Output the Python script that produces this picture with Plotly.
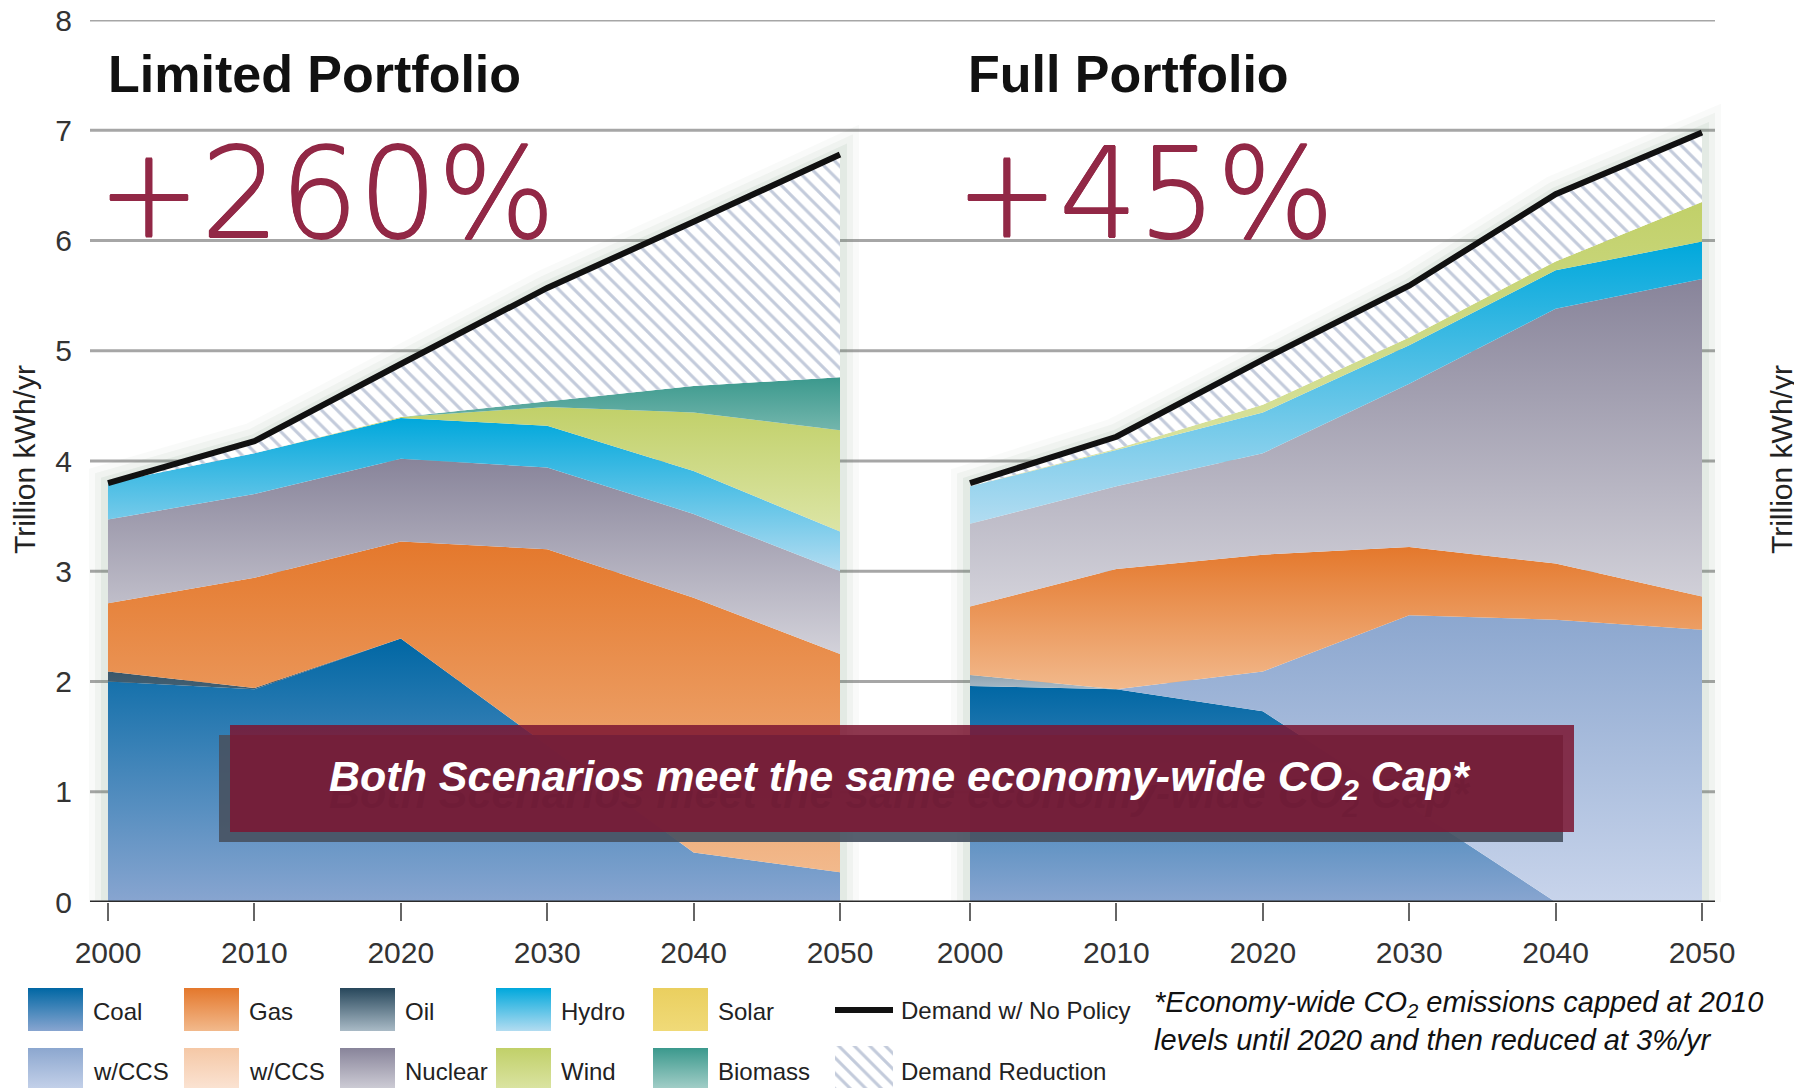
"""Limited vs Full Portfolio generation mix, stacked areas."""

import numpy as np
import plotly.graph_objects as go

W, H = 1802, 1088      # browser window
OFF = 8                # default body margin of the page
FW, FH = W - OFF, H - OFF

years = [2000, 2010, 2020, 2030, 2040, 2050]
y_ticks = [0, 1, 2, 3, 4, 5, 6, 7, 8]

# Limited Portfolio (trillion kWh/yr per source)
lim_coal = [2.00, 1.93, 2.39, 1.42, 0.45, 0.27]
lim_coal_ccs = [0, 0, 0, 0, 0, 0]
lim_oil = [0.09, 0.01, 0, 0, 0, 0]
lim_gas = [0.62, 1.00, 0.88, 1.78, 2.31, 1.98]
lim_gas_ccs = [0, 0, 0, 0, 0, 0]
lim_nuclear = [0.76, 0.76, 0.75, 0.74, 0.76, 0.75]
lim_hydro = [0.33, 0.37, 0.37, 0.38, 0.39, 0.36]
lim_solar = [0, 0, 0, 0, 0, 0]
lim_wind = [0, 0, 0.01, 0.17, 0.53, 0.92]
lim_biomass = [0, 0, 0, 0.05, 0.24, 0.48]
lim_demand = [3.80, 4.18, 4.88, 5.57, 6.17, 6.78]

# Full Portfolio
full_coal = [1.96, 1.93, 1.73, 0.87, 0, 0]
full_coal_ccs = [0, 0, 0.36, 1.73, 2.56, 2.47]
full_oil = [0.10, 0, 0, 0, 0, 0]
full_gas = [0.62, 1.09, 1.06, 0.62, 0.51, 0.30]
full_gas_ccs = [0, 0, 0, 0, 0, 0]
full_nuclear = [0.75, 0.75, 0.92, 1.48, 2.31, 2.88]
full_hydro = [0.34, 0.33, 0.37, 0.35, 0.35, 0.34]
full_solar = [0, 0, 0, 0, 0, 0]
full_wind = [0, 0.01, 0.07, 0.07, 0.08, 0.36]
full_biomass = [0, 0, 0, 0, 0, 0]
full_demand = [3.80, 4.22, 4.92, 5.59, 6.42, 6.98]

# (name, bottom colour, top colour)
sources = [
    ("Coal", "#88a5d0", "#0067a4"),
    ("Coal w/CCS", "#c8d4eb", "#8ca7cf"),
    ("Oil", "#a9bac6", "#27475b"),
    ("Gas", "#f2b98c", "#e4782c"),
    ("Gas w/CCS", "#fbe5d6", "#f5c8a6"),
    ("Nuclear", "#d3d2da", "#88849a"),
    ("Hydro", "#b2dcf1", "#00a8dc"),
    ("Solar", "#f0da78", "#eacf5f"),
    ("Wind", "#dce5a6", "#c1d069"),
    ("Biomass", "#abd2cc", "#3b998d"),
]
lim_layers = [lim_coal, lim_coal_ccs, lim_oil, lim_gas, lim_gas_ccs, lim_nuclear,
              lim_hydro, lim_solar, lim_wind, lim_biomass]
full_layers = [full_coal, full_coal_ccs, full_oil, full_gas, full_gas_ccs, full_nuclear,
               full_hydro, full_solar, full_wind, full_biomass]

HATCH = dict(shape="\\", fgcolor="#8797b8", bgcolor="white", size=11, solidity=0.28)
FONT = "Liberation Sans, Arial, sans-serif"
MAROON = "#922846"


# window pixel -> paper fraction
def px(x):
    return (x - OFF) / FW


def py(y):
    return (H - y) / FH


fig = go.Figure()


def add_panel(layers, demand, xa, group):
    # soft glow around the stacked block
    gx = [years[0]] + years + [years[-1]]
    gy = [0] + demand + [0]
    for wdt, a in [(38, 0.04), (26, 0.06), (14, 0.09)]:
        fig.add_trace(go.Scatter(
            x=gx, y=gy, mode="lines", xaxis=xa, yaxis="y",
            line=dict(color=f"rgba(105,140,110,{a})", width=wdt),
            hoverinfo="skip", showlegend=False,
        ))
    arr = np.array(layers, dtype=float)
    tops = np.cumsum(arr, axis=0)
    bots = tops - arr
    for i, (name, c_lo, c_hi) in enumerate(sources):
        lo, hi = float(bots[i].min()), float(tops[i].max())
        fig.add_trace(go.Scatter(
            x=years, y=layers[i], name=name, mode="lines",
            stackgroup=group, xaxis=xa, yaxis="y",
            line=dict(width=0, color=c_hi),
            fillgradient=dict(type="vertical", start=lo, stop=hi if hi > lo else lo + 0.01,
                              colorscale=[[0, c_lo], [1, c_hi]]),
            showlegend=False,
        ))
    reduction = [round(d - t, 3) for d, t in zip(demand, tops[-1])]
    fig.add_trace(go.Scatter(
        x=years, y=reduction, name="Demand Reduction", mode="lines",
        stackgroup=group, xaxis=xa, yaxis="y",
        line=dict(width=0, color="#8797b8"),
        fillcolor="white", fillpattern=HATCH, showlegend=False,
    ))
    fig.add_trace(go.Scatter(
        x=years, y=demand, name="Demand w/ No Policy", mode="lines",
        xaxis=xa, yaxis="y", line=dict(color="#111111", width=6),
        showlegend=False,
    ))


add_panel(lim_layers, lim_demand, "x", "lim")
add_panel(full_layers, full_demand, "x2", "full")

# ---- legend, drawn on a pixel-scaled helper axis (value = window pixel) ----
LEG_TOP = 0.16
col_x = [28, 184, 340, 496, 653]
row_y = [(988, 1031), (1048, 1092)]
row_text_y = [1011, 1071]
legend_rows = [["Coal", "Gas", "Oil", "Hydro", "Solar"],
               ["w/CCS", "w/CCS", "Nuclear", "Wind", "Biomass"]]
legend_src = [[0, 3, 2, 6, 7], [1, 4, 5, 8, 9]]
LEG_FONT = dict(family=FONT, size=24, color="#222")
annotations = []
for r in range(2):
    y0, y1 = row_y[r]
    for c in range(5):
        name, c_lo, c_hi = sources[legend_src[r][c]]
        x0 = col_x[c]
        fig.add_trace(go.Scatter(
            x=[x0, x0 + 55, x0 + 55, x0, x0], y=[H - y1, H - y1, H - y0, H - y0, H - y1],
            mode="lines", fill="toself", xaxis="x3", yaxis="y3",
            line=dict(width=0), fillcolor=c_hi,
            fillgradient=dict(type="vertical", start=H - y1, stop=H - y0,
                              colorscale=[[0, c_lo], [1, c_hi]]),
            hoverinfo="skip", showlegend=False,
        ))
        annotations.append(dict(
            x=px(x0 + 63), y=py(row_text_y[r]), text=legend_rows[r][c], font=LEG_FONT,
        ))
# demand line + hatch swatch
fig.add_trace(go.Scatter(
    x=[835, 893], y=[H - 1010, H - 1010], mode="lines", xaxis="x3", yaxis="y3",
    line=dict(color="#111", width=6), hoverinfo="skip", showlegend=False,
))
fig.add_trace(go.Scatter(
    x=[835, 893, 893, 835, 835], y=[H - 1092, H - 1092, H - 1046, H - 1046, H - 1092],
    mode="lines", fill="toself", xaxis="x3", yaxis="y3", line=dict(width=0),
    fillcolor="white", fillpattern=HATCH, hoverinfo="skip", showlegend=False,
))
annotations += [
    dict(x=px(899), y=py(1010), text="Demand w/ No Policy", font=LEG_FONT),
    dict(x=px(899), y=py(1071), text="Demand Reduction", font=LEG_FONT),
]

# ---- titles and notes ----
# thin face thickened slightly with a same-colour text shadow
thick = ", ".join(f"{dx}px {dy}px 0 {MAROON}" for dx, dy in
                  [(0.6, 0), (-0.6, 0), (0, 0.6), (0, -0.6)])
PCT_FONT = dict(family="DejaVu Sans, Lato, sans-serif", size=124, color=MAROON,
                weight=200, shadow=thick)
annotations += [
    dict(x=px(106), y=py(74), text="<b>Limited Portfolio</b>",
         font=dict(family=FONT, size=52, color="#111")),
    dict(x=px(966), y=py(74), text="<b>Full Portfolio</b>",
         font=dict(family=FONT, size=52, color="#111")),
    dict(x=px(95), y=py(194), text="+260%", font=PCT_FONT),
    dict(x=px(953), y=py(194), text="+45%", font=PCT_FONT),
    dict(x=px(1152), y=py(1004), text="<i>*Economy-wide CO<sub>2</sub> emissions capped at 2010</i>",
         font=dict(family=FONT, size=29, color="#111")),
    dict(x=px(1152), y=py(1040), text="<i>levels until 2020 and then reduced at 3%/yr</i>",
         font=dict(family=FONT, size=29, color="#111")),
]
for a in annotations:
    a.update(xref="paper", yref="paper", xanchor="left", yanchor="middle", showarrow=False)

axis_titles = [
    dict(x=px(24), y=py(460), text="Trillion kWh/yr", textangle=-90),
    dict(x=px(1781), y=py(460), text="Trillion kWh/yr", textangle=-90),
]
for a in axis_titles:
    a.update(xref="paper", yref="paper", xanchor="center", yanchor="middle", showarrow=False,
             font=dict(family=FONT, size=30, color="#222"))
annotations += axis_titles

# banner
BANNER = "<b><i>Both Scenarios meet the same economy-wide CO<sub>2</sub> Cap*</i></b>"
banner_txt = [
    dict(x=px(900), y=py(796), text=BANNER,
         font=dict(family=FONT, size=43, color="rgba(95,20,45,0.22)")),
    dict(x=px(900), y=py(779), text=BANNER,
         font=dict(family=FONT, size=43, color="white")),
]
for a in banner_txt:
    a.update(xref="paper", yref="paper", xanchor="center", yanchor="middle", showarrow=False)
annotations += banner_txt

shapes = []
for t in y_ticks[1:]:
    shapes.append(dict(type="line", xref="paper", yref="y", x0=px(90), x1=px(1715),
                       y0=t, y1=t, line=dict(color="#a6a6a6", width=3), layer="below"))
shapes.append(dict(type="line", xref="paper", yref="y", x0=px(90), x1=px(1715),
                   y0=0, y1=0, line=dict(color="#2b2b2b", width=3), layer="above"))
shapes.append(dict(type="rect", xref="paper", yref="paper", x0=px(219), x1=px(1563),
                   y0=py(842), y1=py(735), fillcolor="rgba(72,82,98,0.92)",
                   line=dict(width=0), layer="above"))
shapes.append(dict(type="rect", xref="paper", yref="paper", x0=px(230), x1=px(1574),
                   y0=py(832), y1=py(725), fillcolor="rgba(124,22,50,0.86)",
                   line=dict(width=0), layer="above"))

PPY = 14.64  # pixels per year
pad = 2.5
xa_common = dict(
    range=[2000 - pad, 2050 + pad], tickvals=years, ticks="outside", ticklen=18,
    tickwidth=2, tickcolor="#666", showgrid=False, zeroline=False, showline=False,
    tickfont=dict(family=FONT, size=30, color="#333"), ticklabelstandoff=6, anchor="y",
    automargin=False,
)
ya_common = dict(
    range=[0, 8], tickvals=y_ticks, domain=[py(902), py(20)], showgrid=False,
    zeroline=False, showline=False, ticks="outside", ticklen=12,
    tickcolor="rgba(0,0,0,0)", tickfont=dict(family=FONT, size=30, color="#333"),
    anchor="free", automargin=False, ticklabeloverflow="allow",
)

fig.update_layout(
    width=FW, height=FH,
    margin=dict(l=0, r=0, t=0, b=0, autoexpand=False),
    paper_bgcolor="white", plot_bgcolor="rgba(0,0,0,0)",
    showlegend=False,
    xaxis=dict(domain=[px(108 - pad * PPY), px(108 + (50 + pad) * PPY)], **xa_common),
    xaxis2=dict(domain=[px(970 - pad * PPY), px(970 + (50 + pad) * PPY)], **xa_common),
    yaxis=dict(position=px(90), side="left", **ya_common),
    yaxis2=dict(position=px(1715), side="right", overlaying="y", **ya_common),
    xaxis3=dict(domain=[0, 1], range=[OFF, W], visible=False, anchor="y3", automargin=False),
    yaxis3=dict(domain=[0, LEG_TOP], range=[0, LEG_TOP * FH], visible=False, anchor="x3",
                automargin=False),
    shapes=shapes,
    annotations=annotations,
)

fig.write_html("out.html")
